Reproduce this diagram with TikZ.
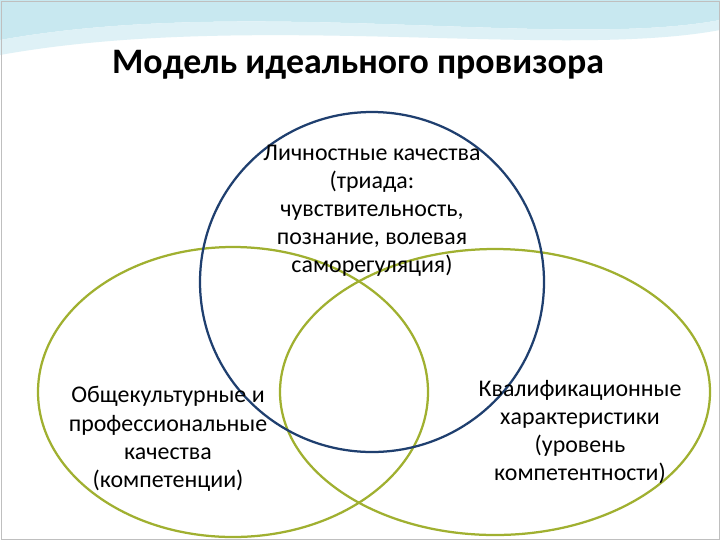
\documentclass[tikz,border=0pt]{standalone}
\usepackage{fontspec}
\setmainfont{Carlito}
\usetikzlibrary{positioning}
\definecolor{ringblue}{RGB}{31,63,111}
\definecolor{ringgreen}{RGB}{160,176,48}
\definecolor{wave}{RGB}{200,232,240}
\begin{document}
\begin{tikzpicture}[x=0.025cm,y=-0.025cm,
  ring/.style={line width=1.6pt},
  txt/.style={align=center,font=\fontsize{17}{20}\selectfont}]
  \useasboundingbox (0,0) rectangle (720,540);
  \fill[white] (0,0) rectangle (720,540);
  % top wave
  \fill[wave] (0,0) -- (720,0) -- (720,20) .. controls (560,50) and (250,-5) .. (0,40) -- cycle;
  \fill[wave!60] (0,40) .. controls (250,-5) and (560,50) .. (720,20) -- (720,30) .. controls (560,60) and (250,10) .. (0,55) -- cycle;
  \draw[gray!50] (1,1) rectangle (719,539);
  \node[font=\fontsize{25.5}{28}\selectfont\bfseries] (title) at (358,65) {Модель идеального провизора};
  % rings
  \draw[ring,ringgreen] (233,392) ellipse [x radius=195,y radius=145];
  \draw[ring,ringgreen] (495,392) ellipse [x radius=215,y radius=143];
  \draw[ring,ringblue] (372,282) ellipse [x radius=172,y radius=170];
  % labels
  \node[txt] (personal) at (372,211) {Личностные качества\\(триада:\\чувствительность,\\познание, волевая\\саморегуляция)};
  \node[txt] (general) at (168,439) {Общекультурные и\\профессиональные\\качества\\(компетенции)};
  \node[txt] (qualif) at (580,432) {Квалификационные\\характеристики\\(уровень\\компетентности)};
\end{tikzpicture}
\end{document}
